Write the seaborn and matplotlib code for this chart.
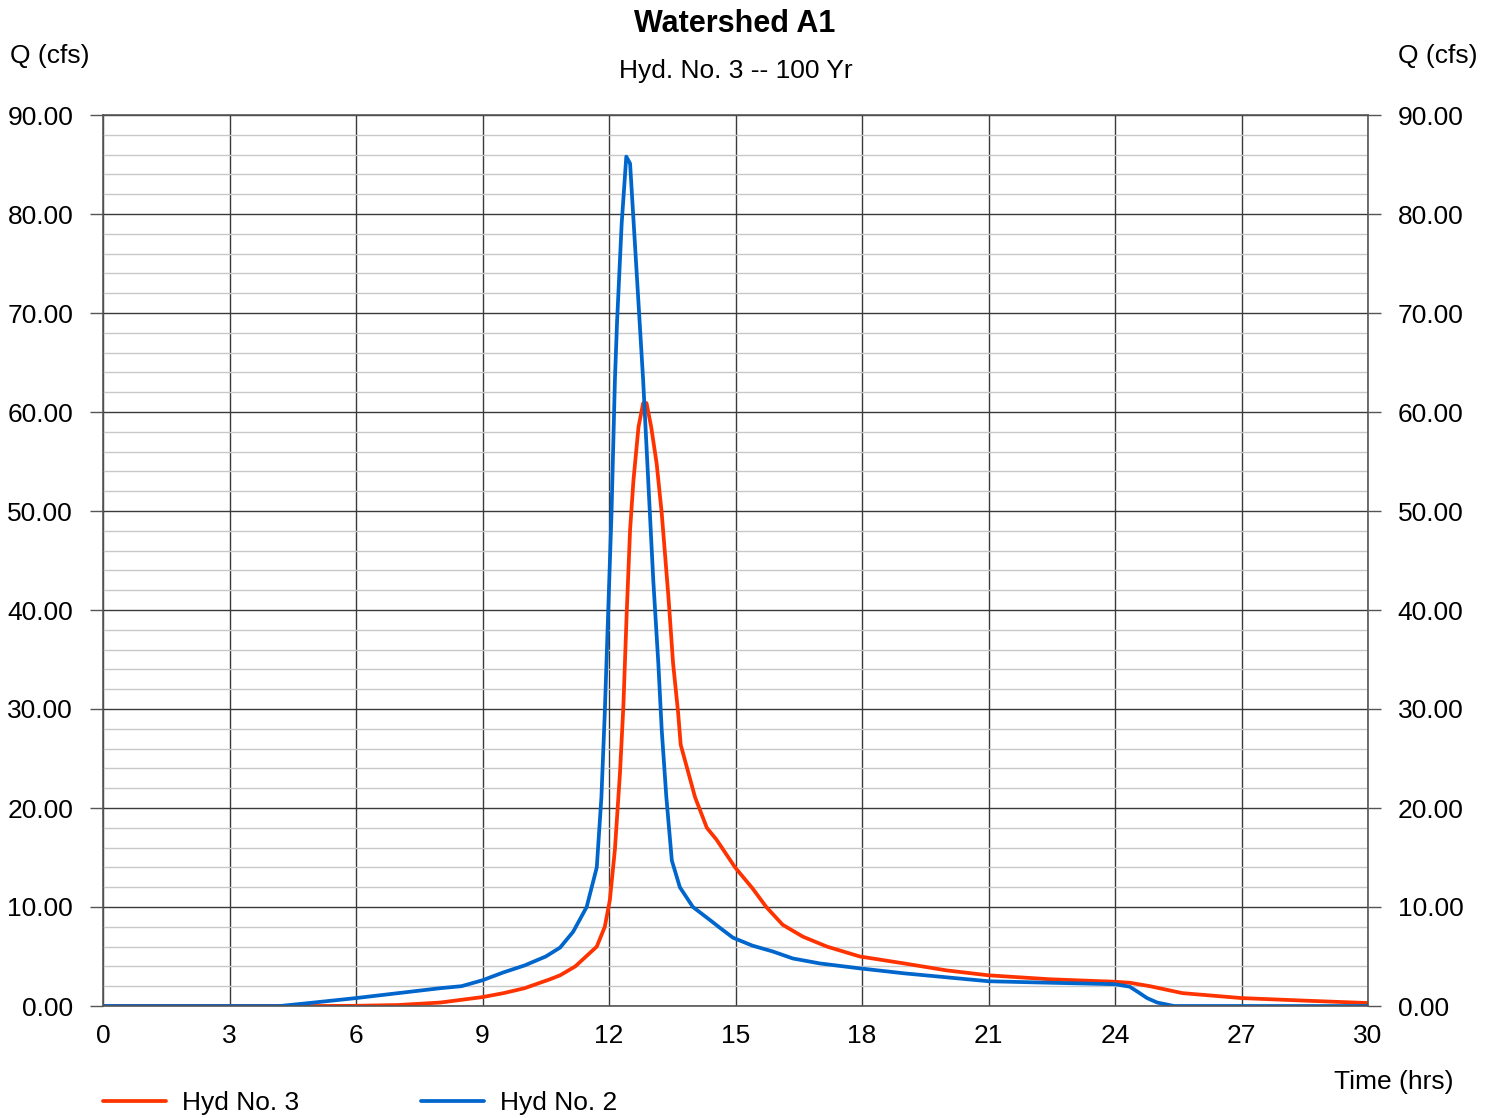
import matplotlib
matplotlib.use("Agg")
import matplotlib.pyplot as plt
import seaborn as sns
import numpy as np

# ---- data ----
hyd3_time = [0, 5, 6, 7, 8, 9, 9.5, 10, 10.6, 10.84, 11.2, 11.71, 11.9, 12.02, 12.14,
             12.26, 12.34, 12.42, 12.5, 12.58, 12.7, 12.81, 12.89, 13.0, 13.13, 13.25,
             13.41, 13.52, 13.64, 13.7, 14.04, 14.32, 14.55, 14.99, 15.4, 15.73, 16.12,
             16.6, 17.17, 17.95, 19, 20, 21, 22.46, 24, 24.35, 24.83, 25.6, 27, 28.45, 30]
hyd3_flow = [0, 0, 0.02, 0.1, 0.35, 0.9, 1.3, 1.8, 2.7, 3.1, 4.0, 6.0, 8.0, 10.7, 15.8,
             23.5, 30.2, 39.7, 48.1, 53.1, 58.5, 60.9, 60.9, 58.5, 54.8, 49.8,
             41.3, 34.6, 29.6, 26.4, 21.1, 18.0, 16.8, 14.0, 11.9, 10.0, 8.2,
             7.0, 6.0, 5.0, 4.3, 3.6, 3.1, 2.7, 2.45, 2.35, 2.0, 1.3, 0.8, 0.55, 0.3]

hyd2_time = [0, 4.2, 5, 6, 7, 8, 8.5, 9, 9.5, 10, 10.5, 10.84, 11.15, 11.47, 11.71,
             11.82, 11.9, 11.98, 12.06, 12.14, 12.19, 12.3, 12.41, 12.5, 12.81, 12.93,
             13.05, 13.17, 13.25, 13.36, 13.49, 13.68, 13.99, 14.39, 14.63, 14.94, 15.4,
             15.89, 16.36, 17, 17.95, 19, 20, 21, 22.46, 24, 24.35, 24.55, 24.76, 25.0,
             25.4, 30]
hyd2_flow = [0, 0, 0.35, 0.8, 1.3, 1.8, 2.0, 2.6, 3.4, 4.1, 5.0, 5.9, 7.5, 10.0, 14.0,
             21.1, 29.6, 39.7, 49.8, 63.2, 69.0, 79.0, 85.8, 85.1, 63.2, 53.1,
             43.0, 34.6, 27.9, 21.1, 14.7, 12.0, 10.0, 8.7, 7.9, 6.9, 6.1,
             5.5, 4.8, 4.3, 3.8, 3.3, 2.9, 2.5, 2.35, 2.2, 1.95, 1.4, 0.8, 0.35,
             0.0, 0.0]

x_ticks = list(range(0, 31, 3))
y_ticks = list(range(0, 91, 10))

sns.set_style("white")
plt.rcParams['font.family'] = ['Liberation Sans', 'DejaVu Sans']
plt.rcParams['text.color'] = 'black'
plt.rcParams['xtick.color'] = 'black'
plt.rcParams['ytick.color'] = 'black'

fig = plt.figure(figsize=(14.96, 11.18), dpi=100)
ax = fig.add_axes([103 / 1496, 1 - 1006 / 1118, (1368 - 103) / 1496, (1006 - 115) / 1118])

sns.lineplot(x=hyd3_time, y=hyd3_flow, ax=ax, color='#ff3300', lw=2.7,
             label='Hyd No. 3', estimator=None, sort=False)
sns.lineplot(x=hyd2_time, y=hyd2_flow, ax=ax, color='#0066cc', lw=2.7,
             label='Hyd No. 2', estimator=None, sort=False)

ax.set_xlim(0, 30)
ax.set_ylim(0, 90)
ax.set_xticks(x_ticks)
ax.set_yticks(y_ticks)
ax.set_yticks(np.arange(0, 91, 2), minor=True)
ax.set_yticklabels([f"{v:.2f}" for v in y_ticks])
ax.set_xlabel("")
ax.set_ylabel("")

ax.grid(which='minor', axis='y', color='#c8c8c8', lw=1)
ax.grid(which='major', axis='both', color='#3a3a3a', lw=1)
ax.set_axisbelow(True)
for s in ax.spines.values():
    s.set_color('#555555')
    s.set_linewidth(1.2)

ax.tick_params(axis='y', which='major', left=True, right=True, labelleft=True,
               labelright=True, length=9.5, width=1, color='#555555', pad=12,
               labelsize=19, labelcolor='black')
ax.tick_params(axis='y', which='minor', left=False, right=False)
ax.tick_params(axis='x', length=0, pad=13, labelsize=19, labelcolor='black')

ax.get_legend().remove()
handles, labels = ax.get_legend_handles_labels()
fig.legend(handles, labels, loc='center left', bbox_to_anchor=(103 / 1496, 1 - 1103 / 1118),
           ncol=2, frameon=False, fontsize=19, handlelength=2.4, handletextpad=0.6,
           columnspacing=4.6, borderpad=0, borderaxespad=0)

fig.text(735 / 1496, 1 - 24 / 1118, "Watershed A1", ha='center', va='center',
         fontsize=22, fontweight='bold')
fig.text(736 / 1496, 1 - 71 / 1118, "Hyd. No. 3 -- 100 Yr", ha='center', va='center',
         fontsize=19)
fig.text(10 / 1496, 1 - 56 / 1118, "Q (cfs)", ha='left', va='center', fontsize=19)
fig.text(1478 / 1496, 1 - 56 / 1118, "Q (cfs)", ha='right', va='center', fontsize=19)
fig.text(1453 / 1496, 1 - 1082 / 1118, "Time (hrs)", ha='right', va='center', fontsize=19)

fig.savefig("out.png", dpi=100, facecolor='white')
